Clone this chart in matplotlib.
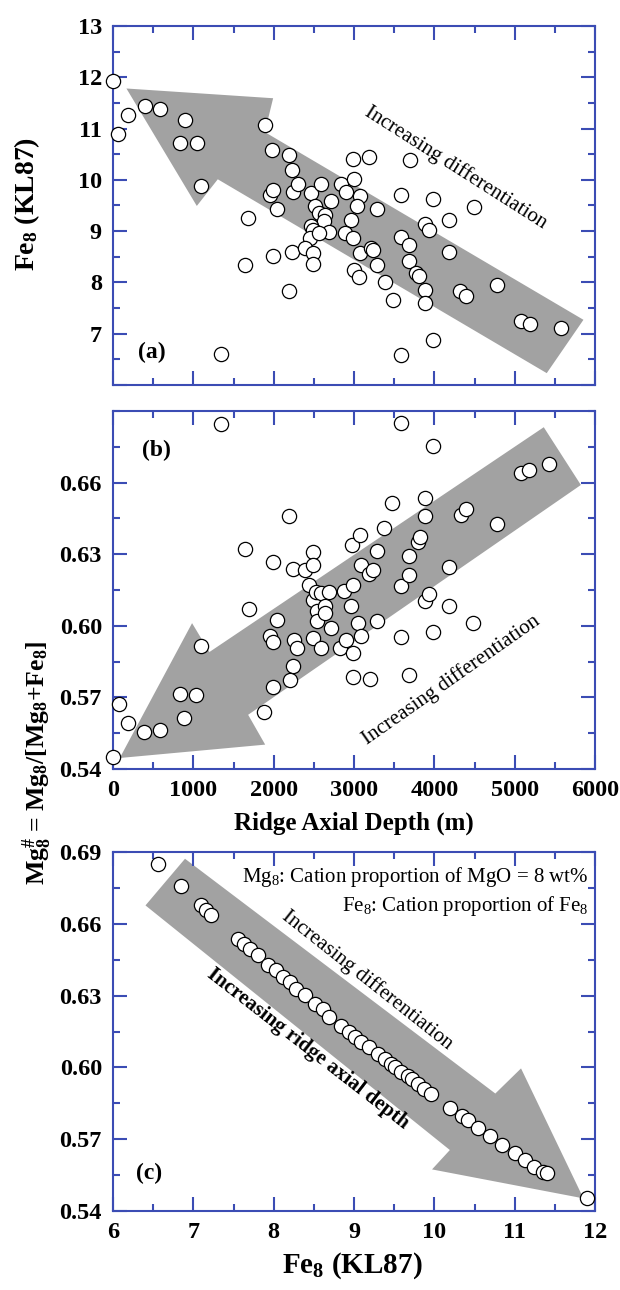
import numpy as np
from matplotlib import pyplot as plt
from matplotlib.patches import Polygon
from matplotlib.ticker import MultipleLocator

plt.rcParams['font.family'] = ['Liberation Serif', 'DejaVu Serif']
plt.rcParams['font.weight'] = 'bold'
plt.rcParams['mathtext.fontset'] = 'custom'
plt.rcParams['mathtext.default'] = 'regular'

# ---- data ----
# (a) ridge axial depth (m) vs Fe8
depth_a = [0, 59, 192, 394, 586, 891, 837, 1043, 1093, 1339, 1683, 1639, 1895, 1978,
           1954, 1988, 2042, 1993, 2185, 2234, 2239, 2298, 2224, 2190, 2470, 2593, 2520,
           2569, 2643, 2628, 2470, 2495, 2446, 2387, 2495, 2485, 2692, 2569, 2717, 2840,
           2894, 2997, 2987, 3189, 3076, 3036, 2968, 2889, 2987, 2997, 3061, 3076, 3209,
           3233, 3292, 3292, 3390, 3489, 3588, 3691, 3588, 3686, 3686, 3775, 3809, 3888,
           3937, 3986, 3888, 3883, 3986, 3583, 4183, 4183, 4321, 4390, 4488, 4778, 5079,
           5192, 5571]
fe8_a = [11.93, 10.90, 11.26, 11.43, 11.39, 11.17, 10.72, 10.72, 9.88, 6.61, 9.25, 8.34,
         11.06, 10.59, 9.71, 9.81, 9.43, 8.51, 10.48, 10.20, 9.76, 9.91, 8.60, 7.84, 9.75,
         9.91, 9.49, 9.36, 9.32, 9.19, 9.10, 9.03, 8.87, 8.67, 8.58, 8.35, 8.99, 8.97, 9.58,
         9.91, 9.76, 10.01, 10.41, 10.44, 9.68, 9.49, 9.21, 8.97, 8.87, 8.25, 8.11, 8.58,
         8.67, 8.63, 9.44, 8.34, 8.00, 7.66, 9.71, 10.38, 8.88, 8.72, 8.41, 8.19, 8.13,
         9.13, 9.03, 9.62, 7.86, 7.59, 6.88, 6.58, 9.21, 8.59, 7.83, 7.74, 9.47, 7.94, 7.25,
         7.18, 7.11]

# (b) ridge axial depth (m) vs Mg#8
depth_b = [0, 69, 192, 389, 590, 836, 1033, 885, 1092, 1348, 1643, 1687, 1884, 1987, 1953,
           1992, 2041, 1987, 2189, 2238, 2248, 2287, 2238, 2199, 2386, 2435, 2494, 2494,
           2484, 2523, 2583, 2543, 2543, 2484, 2641, 2641, 2691, 2715, 2592, 2828, 2877,
           2902, 2966, 2986, 2976, 3069, 2986, 2986, 3050, 3084, 3084, 3183, 3232, 3291,
           3291, 3193, 3379, 3478, 3591, 3591, 3591, 3684, 3689, 3797, 3822, 3689, 3886,
           3886, 3886, 3935, 3984, 3984, 4181, 4181, 4329, 4388, 4476, 4781, 5076, 5184,
           5430]
mg_b = [0.5450, 0.5673, 0.5593, 0.5556, 0.5565, 0.5715, 0.5711, 0.5613, 0.5914, 0.6844,
        0.6321, 0.6071, 0.5639, 0.6269, 0.5958, 0.5932, 0.6025, 0.5743, 0.6458, 0.6237,
        0.5941, 0.5907, 0.5830, 0.5774, 0.6235, 0.6172, 0.6311, 0.6255, 0.6109, 0.6141,
        0.6139, 0.6060, 0.6018, 0.5948, 0.6081, 0.6053, 0.6140, 0.5990, 0.5907, 0.5907,
        0.6147, 0.5941, 0.6084, 0.6172, 0.6339, 0.6381, 0.5886, 0.5784, 0.6011, 0.5958,
        0.6255, 0.6216, 0.6234, 0.6314, 0.6018, 0.5777, 0.6409, 0.6513, 0.6165, 0.5951,
        0.6848, 0.6211, 0.6294, 0.6353, 0.6374, 0.5793, 0.6537, 0.6458, 0.6102, 0.6133,
        0.5976, 0.6753, 0.6248, 0.6081, 0.6465, 0.6488, 0.6011, 0.6427, 0.6639, 0.6653,
        0.6678]

# (c) Fe8 vs Mg#8
fe8_c = [6.566, 6.846, 7.093, 7.157, 7.225, 7.550, 7.634, 7.707, 7.806, 7.929, 8.028,
         8.116, 8.200, 8.283, 8.387, 8.520, 8.608, 8.692, 8.840, 8.938, 9.012, 9.086,
         9.184, 9.297, 9.381, 9.455, 9.504, 9.588, 9.676, 9.725, 9.799, 9.873, 9.957,
         10.193, 10.341, 10.414, 10.547, 10.695, 10.847, 11.005, 11.128, 11.241, 11.349,
         11.398, 11.901]
mg_c = [0.6851, 0.6757, 0.6677, 0.6659, 0.6638, 0.6538, 0.6517, 0.6496, 0.6469, 0.6430,
        0.6406, 0.6378, 0.6357, 0.6329, 0.6302, 0.6267, 0.6246, 0.6211, 0.6172, 0.6149,
        0.6128, 0.6107, 0.6086, 0.6058, 0.6037, 0.6016, 0.6002, 0.5982, 0.5964, 0.5950,
        0.5929, 0.5912, 0.5887, 0.5831, 0.5797, 0.5780, 0.5748, 0.5713, 0.5676, 0.5641,
        0.5613, 0.5585, 0.5564, 0.5557, 0.5453]

depth_ticks = [0, 1000, 2000, 3000, 4000, 5000, 6000]
depth_labels = ['0', '1000', '2000', '3000', '4000', '5000', '6000']
fe_ticks = [6, 7, 8, 9, 10, 11, 12, 13]
fe_labels_a = ['', '7', '8', '9', '10', '11', '12', '13']
fe_ticks_c = [6, 7, 8, 9, 10, 11, 12]
mg_ticks_b = [0.54, 0.57, 0.60, 0.63, 0.66]
mg_labels_b = ['0.54', '0.57', '0.60', '0.63', '0.66']
mg_ticks_c = [0.54, 0.57, 0.60, 0.63, 0.66, 0.69]
mg_labels_c = ['0.54', '0.57', '0.60', '0.63', '0.66', '0.69']

# shaded trend arrows (outline, data coordinates)
arrow_a = [(167, 11.78), (1993, 11.59), (1890, 10.93), (5856, 7.27),
           (5399, 6.23), (1304, 10.01), (1043, 9.49)]
arrow_b = [(84, 0.5446), (984, 0.6011), (1200, 0.5890), (5362, 0.6832),
           (5824, 0.6590), (1682, 0.5627), (1894, 0.5502)]
arrow_c = [(6.404, 0.6677), (6.896, 0.6872), (10.759, 0.5891), (11.079, 0.5996),
           (11.856, 0.5453), (9.971, 0.5574), (10.193, 0.5655)]

BLUE = '#3b4cb4'
GRAY = '#a2a2a2'


def style_axes(ax):
    for sp in ax.spines.values():
        sp.set_color(BLUE)
        sp.set_linewidth(1.5)
    ax.tick_params(which='both', direction='in', top=True, right=True,
                   color=BLUE, width=1.5, labelsize=17.5, pad=8)
    ax.tick_params(which='major', length=10)
    ax.tick_params(which='minor', length=5)


def scatter(ax, x, y):
    ax.scatter(x, y, s=105, facecolor='white', edgecolor='black',
               linewidths=0.9, zorder=3, clip_on=False)


fig = plt.figure(figsize=(6.2, 12.9), dpi=100)
ax_a = fig.add_axes([0.1823, 0.7016, 0.7774, 0.2783])
ax_b = fig.add_axes([0.1823, 0.4039, 0.7774, 0.2775])
ax_c = fig.add_axes([0.1823, 0.0612, 0.7774, 0.2783])

# (a)
ax_a.add_patch(Polygon(arrow_a, closed=True, facecolor=GRAY, edgecolor='none', zorder=1))
scatter(ax_a, depth_a, fe8_a)
ax_a.set_xlim(0, 6000)
ax_a.set_ylim(6, 13)
ax_a.set_xticks(depth_ticks)
ax_a.set_xticklabels([])
ax_a.set_yticks(fe_ticks)
ax_a.set_yticklabels(fe_labels_a)
ax_a.xaxis.set_minor_locator(MultipleLocator(500))
ax_a.yaxis.set_minor_locator(MultipleLocator(0.5))
style_axes(ax_a)
ax_a.text(4267, 10.23, 'Increasing differentiation', rotation=-32.5, fontsize=15,
          fontweight='normal', ha='center', va='center', rotation_mode='anchor')
ax_a.text(0.08, 0.09, '(a)', transform=ax_a.transAxes, fontsize=17,
          ha='center', va='center')

# (b)
ax_b.add_patch(Polygon(arrow_b, closed=True, facecolor=GRAY, edgecolor='none', zorder=1))
scatter(ax_b, depth_b, mg_b)
ax_b.set_xlim(0, 6000)
ax_b.set_ylim(0.54, 0.69)
ax_b.set_xticks(depth_ticks)
ax_b.set_xticklabels(depth_labels)
ax_b.set_yticks(mg_ticks_b)
ax_b.set_yticklabels(mg_labels_b)
ax_b.xaxis.set_minor_locator(MultipleLocator(500))
ax_b.yaxis.set_minor_locator(MultipleLocator(0.015))
style_axes(ax_b)
ax_b.text(4215, 0.5774, 'Increasing differentiation', rotation=35, fontsize=15,
          fontweight='normal', ha='center', va='center', rotation_mode='anchor')
ax_b.text(0.09, 0.89, '(b)', transform=ax_b.transAxes, fontsize=17,
          ha='center', va='center')

# (c)
ax_c.add_patch(Polygon(arrow_c, closed=True, facecolor=GRAY, edgecolor='none', zorder=1))
scatter(ax_c, fe8_c, mg_c)
ax_c.set_xlim(6, 12)
ax_c.set_ylim(0.54, 0.69)
ax_c.set_xticks(fe_ticks_c)
ax_c.set_yticks(mg_ticks_c)
ax_c.set_yticklabels(mg_labels_c)
ax_c.xaxis.set_minor_locator(MultipleLocator(0.5))
ax_c.yaxis.set_minor_locator(MultipleLocator(0.015))
style_axes(ax_c)
ax_c.text(9.16, 0.6364, 'Increasing differentiation', rotation=-38.4, fontsize=15,
          fontweight='normal', ha='center', va='center', rotation_mode='anchor')
ax_c.text(8.42, 0.6079, 'Increasing ridge axial depth', rotation=-37.8, fontsize=15,
          ha='center', va='center', rotation_mode='anchor')
ax_c.text(0.986, 0.931, 'Mg$_8$: Cation proportion of MgO = 8 wt%', transform=ax_c.transAxes,
          fontsize=15, fontweight='normal', ha='right', va='center')
ax_c.text(0.986, 0.851, 'Fe$_8$: Cation proportion of Fe$_8$', transform=ax_c.transAxes,
          fontsize=15, fontweight='normal', ha='right', va='center')
ax_c.text(0.075, 0.105, '(c)', transform=ax_c.transAxes, fontsize=17,
          ha='center', va='center')

# axis titles
fig.text(0.044, 0.842, 'Fe$_8$ (KL87)', rotation=90, fontsize=20,
         ha='center', va='center')
fig.text(0.061, 0.409, 'Mg$^{\\#}_8$ = Mg$_8$/[Mg$_8$+Fe$_8$]', rotation=90, fontsize=18.5,
         ha='center', va='center')
fig.text(0.571, 0.362, 'Ridge Axial Depth (m)', fontsize=18, ha='center', va='center')
fig.text(0.568, 0.019, 'Fe$_8$ (KL87)', fontsize=21, ha='center', va='center')

fig.savefig('out.png', dpi=100)
